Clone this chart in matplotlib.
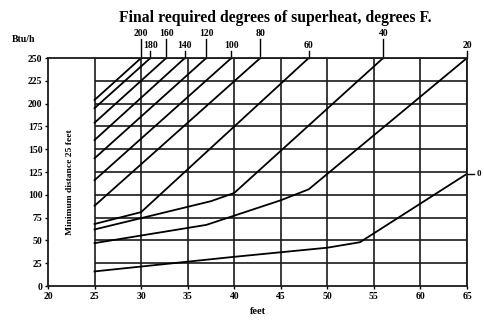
import matplotlib
matplotlib.use('Agg')
import matplotlib.pyplot as plt

# ---- data ----
x_ticks = [20, 25, 30, 35, 40, 45, 50, 55, 60, 65]
y_ticks = [0, 25, 50, 75, 100, 125, 150, 175, 200, 225, 250]
superheat = ['200', '180', '160', '140', '120', '100', '80', '60', '40', '20']
line_x = [
    [25, 30.0],
    [25, 31.0],
    [25, 32.7],
    [25, 34.7],
    [25, 37.0],
    [25, 39.7],
    [25, 42.8],
    [25, 30.0, 48.0],
    [25, 37.5, 40.0, 56.0],
    [25, 37.0, 45.0, 48.0, 65.0],
]
line_y = [
    [204, 250],
    [195, 250],
    [179, 250],
    [160, 250],
    [140, 250],
    [116, 250],
    [88, 250],
    [68, 81, 250],
    [62, 93, 102, 250],
    [47, 67, 94, 106, 250],
]
zero_x = [25, 40, 50, 53.5, 65]
zero_y = [16, 32, 42, 48, 123]
label_row = ['upper', 'lower', 'upper', 'lower', 'upper', 'lower', 'upper', 'lower', 'upper', 'lower']

plt.rcParams['font.family'] = ['Liberation Serif', 'DejaVu Serif']
fig = plt.figure(figsize=(4.84, 3.22), dpi=100)
ax = fig.add_axes([48/484, 1-286/322, (467-48)/484, (286-58)/322])
ax.set_xlim(20, 65)
ax.set_ylim(0, 250)

lw_grid = 1.2
col = '#1a1a1a'
for y in y_ticks[1:]:
    ax.plot([25, 65], [y, y], color=col, lw=lw_grid, solid_capstyle='butt')
for x in x_ticks[1:]:
    ax.plot([x, x], [0, 250], color=col, lw=lw_grid, solid_capstyle='butt')

for xs, ys in zip(line_x, line_y):
    ax.plot(xs, ys, color='black', lw=1.3)
ax.plot(zero_x, zero_y, color='black', lw=1.3)

# labels on top
for lab, xs, row in zip(superheat, line_x, label_row):
    xt = xs[-1]
    yl = 277 if row == 'upper' else 264
    ax.text(xt, yl, lab, ha='center', va='center', fontsize=7, fontweight='bold', clip_on=False)
    ax.plot([xt, xt], [250, yl - 6], color='black', lw=1.0, clip_on=False)

ax.plot([65, 65.8], [zero_y[-1], zero_y[-1]], color='black', lw=1.0, clip_on=False)
ax.text(66.0, zero_y[-1], '0', ha='left', va='center', fontsize=6.5, fontweight='bold', clip_on=False)

ax.text(22.4, 114, 'Minimum distance 25 feet', rotation=90, ha='center', va='center',
        fontsize=6.8, fontweight='bold')

for s in ax.spines.values():
    s.set_linewidth(1.3)
    s.set_color(col)
ax.set_xticks(x_ticks)
ax.set_yticks(y_ticks)
ax.tick_params(length=2, width=1, labelsize=7, pad=2)
for t in ax.get_xticklabels() + ax.get_yticklabels():
    t.set_fontweight('bold')

fig.text(275/484, 1-18/322, 'Final required degrees of superheat, degrees F.', ha='center', va='center',
         fontsize=11.3, fontweight='bold')
fig.text(24/484, 1-40/322, 'Btu/h', ha='center', va='center', fontsize=7, fontweight='bold')
fig.text(258/484, 1-312/322, 'feet', ha='center', va='center', fontsize=7.5, fontweight='bold')

fig.savefig('out.png', dpi=100)
